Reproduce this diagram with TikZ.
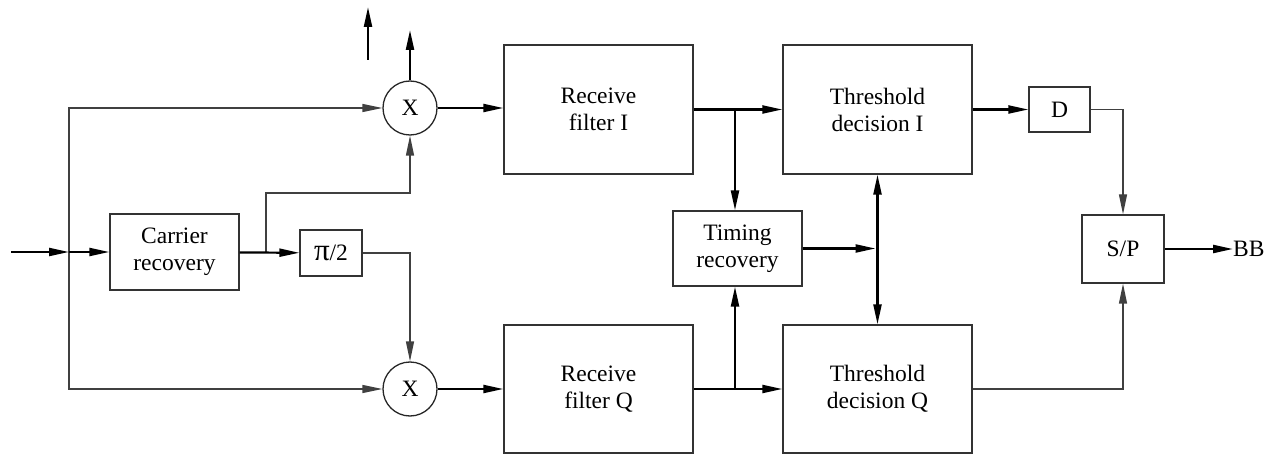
\documentclass[tikz,border=0pt]{standalone}
\usepackage{fontspec}
\setmainfont{Liberation Serif}
\usetikzlibrary{arrows.meta}
\begin{document}
\begin{tikzpicture}[x=1pt, y=-1pt, font=\fontsize{23.5}{27}\selectfont, line join=miter,
		tip/.style={-{Triangle[length=20pt,width=8pt]}},
		blk/.style={draw=black!80, line width=1.3pt, align=center, inner sep=0pt},
		mult/.style={draw=black!85, circle, line width=1.3pt, minimum size=54pt, inner sep=0pt},
		sig/.style={tip, line width=2.2pt},
		wire/.style={tip, line width=1.3pt, draw=black!75}]
	\useasboundingbox (0,0) rectangle (1274,454);
	\node[blk, minimum width=129pt, minimum height=76pt] (car) at (174.5,252) {Carrier\\recovery};
	\node[blk, minimum width=62pt, minimum height=46pt] (phs) at (331,253) {{\fontsize{31}{31}\selectfont π}/2};
	\node[mult] (mi) at (410,108) {X};
	\node[mult] (mq) at (410,389) {X};
	\node[blk, minimum width=189pt, minimum height=129pt] (rfi) at (598.5,109.5) {Receive\\filter I};
	\node[blk, minimum width=189pt, minimum height=128pt] (rfq) at (598.5,389) {Receive\\filter Q};
	\node[blk, minimum width=129pt, minimum height=75pt] (tim) at (737.5,248.5) {Timing\\recovery};
	\node[blk, minimum width=189pt, minimum height=129pt] (tdi) at (877.5,109.5) {Threshold\\decision I};
	\node[blk, minimum width=189pt, minimum height=128pt] (tdq) at (877.5,389) {Threshold\\decision Q};
	\node[blk, minimum width=61pt, minimum height=45pt] (dly) at (1059.5,109.5) {D};
	\node[blk, minimum width=82pt, minimum height=68pt] (sp) at (1123,249) {S/P};
	\node[anchor=west, inner sep=0pt] (bb) at (1233,249) {BB};
	\path (11,252) coordinate (in) (69,252) coordinate (split) (266,252) coordinate (brc)
		(266,193) coordinate (brt) (410,30) coordinate (up) (368,60) coordinate (sa) (368,7) coordinate (sb)
		(735,109.5) coordinate (bri) (735,389) coordinate (brq);
	\draw[wire] (split) |- (mi);
	\draw[wire] (split) |- (mq);
	\draw[wire] (brc) -- (brt) -| (mi);
	\draw[wire] (phs) -| (mq);
	\draw[sig] (in) -- (split);
	\draw[sig] (split) -- (car);
	\draw[sig] (car) -- (phs);
	\draw[sig] (mi) -- (up);
	\draw[sig] (sa) -- (sb);
	\draw[sig] (mi) -- (mi -| rfi.west);
	\draw[sig] (mq) -- (mq -| rfq.west);
	\draw[sig] (rfi) -- (tdi);
	\draw[sig] (rfq) -- (tdq);
	\draw[sig] (bri) -- (bri |- tim.north);
	\draw[sig] (brq) -- (brq |- tim.south);
	\draw[sig, shorten >=2pt] (tim) -- (tim -| tdi);
	\draw[sig, {Triangle[length=20pt,width=8pt]}-{Triangle[length=20pt,width=8pt]}] (tdi) -- (tdq);
	\draw[sig] (tdi) -- (dly);
	\draw[wire] (dly) -| (sp);
	\draw[wire] (tdq) -| (sp);
	\draw[sig] (sp) -- (bb);
\end{tikzpicture}
\end{document}
